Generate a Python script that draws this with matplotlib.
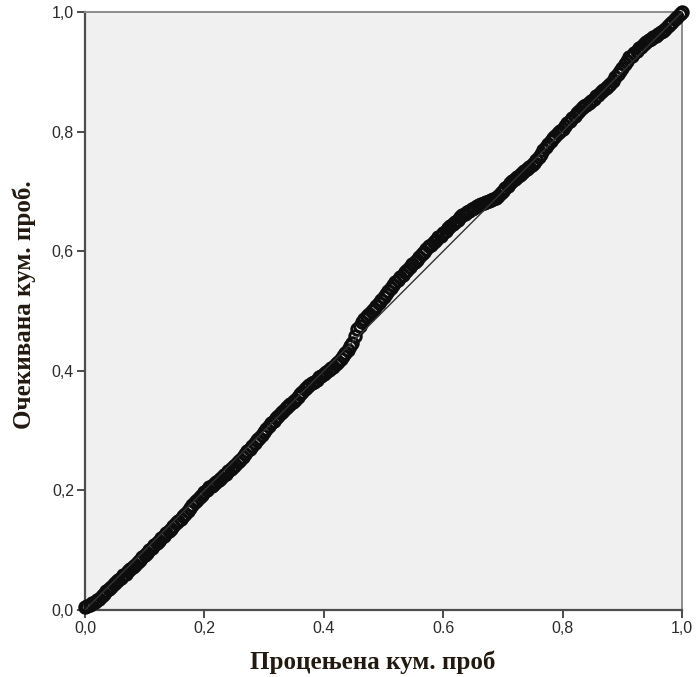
import matplotlib
matplotlib.use("Agg")
import matplotlib.pyplot as plt

obs_cum = [
    0.000, 0.008, 0.016, 0.024, 0.032, 0.040, 0.048, 0.056, 0.064, 0.072,
    0.080, 0.088, 0.096, 0.104, 0.112, 0.120, 0.128, 0.136, 0.144, 0.152,
    0.160, 0.168, 0.176, 0.184, 0.192, 0.200, 0.208, 0.216, 0.224, 0.232,
    0.240, 0.248, 0.256, 0.264, 0.272, 0.280, 0.288, 0.296, 0.304, 0.312,
    0.320, 0.328, 0.336, 0.344, 0.352, 0.360, 0.368, 0.376, 0.384, 0.392,
    0.400, 0.408, 0.416, 0.424, 0.432, 0.440, 0.448, 0.452, 0.456, 0.464,
    0.472, 0.480, 0.488, 0.496, 0.504, 0.512, 0.520, 0.528, 0.536, 0.544,
    0.552, 0.560, 0.568, 0.576, 0.584, 0.592, 0.600, 0.608, 0.616, 0.624,
    0.632, 0.640, 0.648, 0.656, 0.664, 0.672, 0.680, 0.688, 0.696, 0.704,
    0.712, 0.720, 0.728, 0.736, 0.744, 0.752, 0.760, 0.768, 0.776, 0.784,
    0.792, 0.800, 0.808, 0.816, 0.824, 0.832, 0.840, 0.848, 0.856, 0.864,
    0.872, 0.880, 0.888, 0.896, 0.904, 0.912, 0.920, 0.928, 0.936, 0.944,
    0.952, 0.960, 0.968, 0.976, 0.984, 0.992, 1.000,
]
exp_cum = [
    0.005, 0.009, 0.013, 0.019, 0.027, 0.035, 0.043, 0.050, 0.058, 0.065,
    0.072, 0.080, 0.088, 0.096, 0.104, 0.112, 0.120, 0.128, 0.136, 0.145,
    0.153, 0.161, 0.171, 0.180, 0.189, 0.198, 0.205, 0.211, 0.218, 0.225,
    0.232, 0.239, 0.247, 0.256, 0.266, 0.275, 0.284, 0.293, 0.303, 0.312,
    0.321, 0.330, 0.337, 0.345, 0.352, 0.361, 0.370, 0.376, 0.382, 0.389,
    0.395, 0.401, 0.407, 0.415, 0.425, 0.435, 0.447, 0.458, 0.470, 0.481,
    0.491, 0.500, 0.508, 0.518, 0.528, 0.538, 0.548, 0.557, 0.565, 0.574,
    0.582, 0.591, 0.599, 0.608, 0.615, 0.623, 0.630, 0.638, 0.646, 0.653,
    0.661, 0.666, 0.670, 0.675, 0.679, 0.682, 0.686, 0.689, 0.697, 0.705,
    0.714, 0.721, 0.728, 0.734, 0.740, 0.748, 0.758, 0.769, 0.780, 0.789,
    0.797, 0.805, 0.814, 0.822, 0.831, 0.839, 0.845, 0.852, 0.859, 0.866,
    0.873, 0.880, 0.891, 0.902, 0.913, 0.924, 0.931, 0.939, 0.946, 0.953,
    0.958, 0.963, 0.969, 0.976, 0.984, 0.992, 1.000,
]
# further cases lying between the ones above
obs_cum_b = [
    0.004, 0.012, 0.020, 0.028, 0.036, 0.044, 0.052, 0.060, 0.068, 0.076,
    0.084, 0.092, 0.100, 0.108, 0.116, 0.124, 0.132, 0.140, 0.148, 0.156,
    0.164, 0.172, 0.180, 0.188, 0.196, 0.204, 0.212, 0.220, 0.228, 0.236,
    0.244, 0.252, 0.260, 0.268, 0.276, 0.284, 0.292, 0.300, 0.308, 0.316,
    0.324, 0.332, 0.340, 0.348, 0.356, 0.364, 0.372, 0.380, 0.388, 0.396,
    0.404, 0.412, 0.420, 0.428, 0.436, 0.444, 0.460, 0.468, 0.476, 0.484,
    0.492, 0.500, 0.508, 0.516, 0.524, 0.532, 0.540, 0.548, 0.556, 0.564,
    0.572, 0.580, 0.588, 0.596, 0.604, 0.612, 0.620, 0.628, 0.636, 0.644,
    0.652, 0.660, 0.668, 0.676, 0.684, 0.692, 0.700, 0.708, 0.716, 0.724,
    0.732, 0.740, 0.748, 0.756, 0.764, 0.772, 0.780, 0.788, 0.796, 0.804,
    0.812, 0.820, 0.828, 0.836, 0.844, 0.852, 0.860, 0.868, 0.876, 0.884,
    0.892, 0.900, 0.908, 0.916, 0.924, 0.932, 0.940, 0.948, 0.956, 0.964,
    0.972, 0.980, 0.988, 0.996,
]
exp_cum_b = [
    0.007, 0.011, 0.016, 0.023, 0.031, 0.039, 0.046, 0.054, 0.061, 0.069,
    0.076, 0.084, 0.092, 0.100, 0.108, 0.116, 0.124, 0.132, 0.140, 0.149,
    0.157, 0.166, 0.175, 0.184, 0.193, 0.201, 0.208, 0.214, 0.221, 0.228,
    0.235, 0.243, 0.251, 0.261, 0.270, 0.279, 0.288, 0.298, 0.307, 0.316,
    0.325, 0.333, 0.341, 0.348, 0.356, 0.365, 0.373, 0.379, 0.385, 0.392,
    0.398, 0.404, 0.411, 0.420, 0.430, 0.441, 0.475, 0.486, 0.495, 0.504,
    0.513, 0.523, 0.533, 0.543, 0.552, 0.561, 0.569, 0.578, 0.586, 0.595,
    0.603, 0.611, 0.619, 0.626, 0.634, 0.642, 0.649, 0.657, 0.663, 0.668,
    0.672, 0.677, 0.680, 0.684, 0.687, 0.693, 0.701, 0.709, 0.717, 0.724,
    0.731, 0.737, 0.744, 0.753, 0.763, 0.774, 0.784, 0.793, 0.801, 0.809,
    0.818, 0.826, 0.835, 0.842, 0.848, 0.855, 0.862, 0.869, 0.876, 0.885,
    0.896, 0.907, 0.918, 0.927, 0.935, 0.942, 0.950, 0.955, 0.960, 0.966,
    0.972, 0.980, 0.988, 0.996,
]
ref_line = [0.0, 1.0]

tick_vals = [0.0, 0.2, 0.4, 0.6, 0.8, 1.0]
x_tick_labels = ["0,0", "0,2", "0.4", "0.6", "0,8", "1,0"]
y_tick_labels = ["0,0", "0,2", "0,4", "0,6", "0,8", "1,0"]
x_label = "Процењена кум. проб"
y_label = "Очекивана кум. проб."

fig = plt.figure(figsize=(6.96, 6.77), dpi=100)
ax = fig.add_axes([85 / 696, 1 - 610 / 677, 597 / 696, 598 / 677])
ax.set_facecolor("#f0f0f0")

marker_style = dict(linestyle="none", marker="o", markersize=8.3,
                    markerfacecolor="none", markeredgecolor="#0d0d0d",
                    markeredgewidth=2.1, clip_on=False, zorder=3)
ax.plot(obs_cum, exp_cum, **marker_style)
ax.plot(obs_cum_b, exp_cum_b, **marker_style)
ax.plot(ref_line, ref_line, color="#333333", linewidth=1.0, zorder=4)

ax.set_xlim(0, 1)
ax.set_ylim(0, 1)
ax.set_xticks(tick_vals)
ax.set_yticks(tick_vals)
ax.set_xticklabels(x_tick_labels, family="Liberation Sans", fontsize=11.5, color="#2a2a2a")
ax.set_yticklabels(y_tick_labels, family="Liberation Sans", fontsize=11.5, color="#2a2a2a")
ax.tick_params(direction="out", length=6, width=1.4, color="#4d4d4d", pad=2)

for side in ("left", "bottom"):
    ax.spines[side].set_color("#4d4d4d")
    ax.spines[side].set_linewidth(1.6)
for side in ("top", "right"):
    ax.spines[side].set_color("#8c8c8c")
    ax.spines[side].set_linewidth(1.4)

label_font = dict(family="Liberation Serif", fontweight="bold", fontsize=18, color="#221a10")
ax.set_xlabel(x_label, labelpad=10, **label_font)
ax.set_ylabel(y_label, labelpad=11, **label_font)
ax.xaxis.label.set_x(0.482)
ax.yaxis.label.set_y(0.51)

fig.savefig("out.png", dpi=100)
